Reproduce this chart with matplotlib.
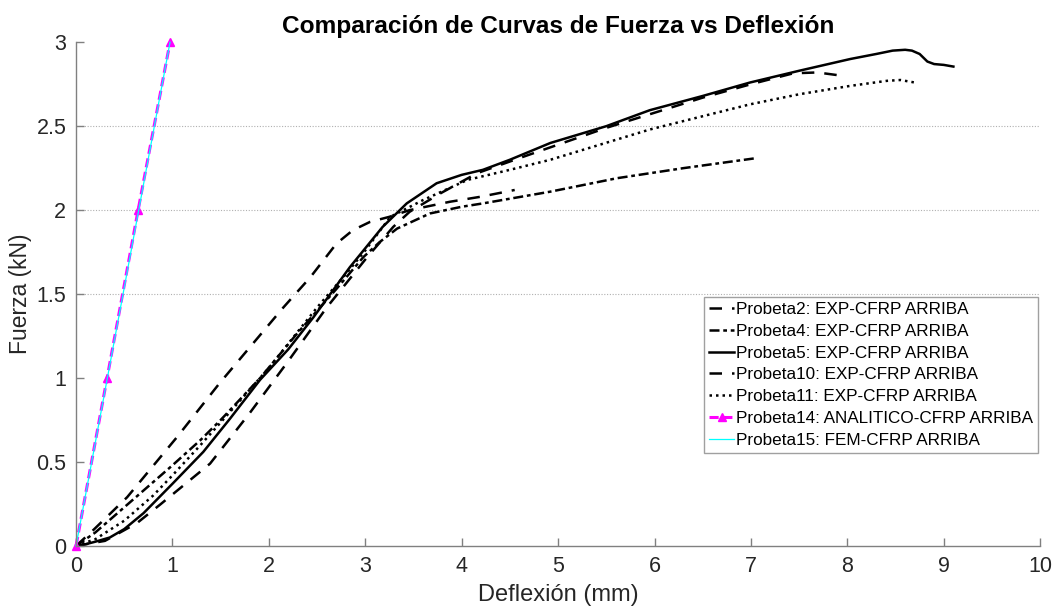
import matplotlib
matplotlib.use("Agg")
import matplotlib.pyplot as plt

plt.rcParams['font.family'] = ['Liberation Sans', 'DejaVu Sans']

# ---- data ----
p2_x = [0, 0.18, 0.53, 1.05, 1.49, 2.15, 2.43, 2.7, 2.87, 3.05, 3.25, 3.46, 3.88, 4.2, 4.55]
p2_y = [0, 0.095, 0.29, 0.65, 0.97, 1.42, 1.6, 1.8, 1.88, 1.93, 1.96, 2.0, 2.05, 2.08, 2.12]

p4_x = [0, 0.2, 0.5, 1.0, 1.29, 1.5, 1.91, 2.3, 2.7, 2.98, 3.15, 3.33, 3.67, 4.0, 4.22, 4.92, 5.61, 6.3, 7.06]
p4_y = [0, 0.08, 0.23, 0.48, 0.63, 0.75, 1.0, 1.27, 1.53, 1.72, 1.81, 1.89, 1.98, 2.02, 2.04, 2.11, 2.19, 2.25, 2.31]

p5_x = [0, 0.1, 0.2, 0.35, 0.5, 0.7, 1.0, 1.32, 1.6, 1.91, 2.2, 2.46, 2.84, 3.18, 3.43, 3.74, 4.0, 4.22,
        4.5, 4.92, 5.5, 5.95, 6.5, 6.99, 7.5, 8.03, 8.3, 8.47, 8.6, 8.67, 8.75, 8.83, 8.9, 9.0, 9.1]
p5_y = [0, 0.01, 0.025, 0.05, 0.1, 0.195, 0.37, 0.56, 0.76, 0.99, 1.17, 1.36, 1.66, 1.9, 2.04, 2.16, 2.21, 2.24,
        2.3, 2.4, 2.5, 2.595, 2.68, 2.76, 2.83, 2.9, 2.93, 2.95, 2.955, 2.95, 2.93, 2.885, 2.87, 2.865, 2.855]

p10_x = [0, 0.3, 0.63, 0.87, 1.39, 1.8, 2.2, 2.6, 3.02, 3.29, 3.46, 3.78, 4.16, 4.6, 5.0, 5.5, 6.0, 6.5,
         7.0, 7.44, 7.69, 7.95]
p10_y = [0, 0.03, 0.135, 0.245, 0.49, 0.79, 1.1, 1.42, 1.72, 1.9, 1.99, 2.1, 2.22, 2.31, 2.39, 2.49, 2.58, 2.67,
         2.75, 2.815, 2.82, 2.80]

p11_x = [0, 0.2, 0.5, 0.8, 1.0, 1.29, 1.6, 2.0, 2.5, 2.8, 3.0, 3.26, 3.6, 4.06, 4.5, 4.92, 5.95, 6.99,
         7.5, 8.03, 8.41, 8.55, 8.7]
p11_y = [0, 0.04, 0.15, 0.3, 0.42, 0.6, 0.8, 1.06, 1.42, 1.62, 1.76, 1.96, 2.06, 2.18, 2.24, 2.3, 2.48, 2.63,
         2.69, 2.74, 2.77, 2.775, 2.76]

p14_x = [0, 0.322, 0.644, 0.975]
p14_y = [0, 1, 2, 3]

p15_x = [0, 0.975]
p15_y = [0, 3]

x_ticks = [0, 1, 2, 3, 4, 5, 6, 7, 8, 9, 10]
y_ticks = [0, 0.5, 1, 1.5, 2, 2.5, 3]
y_tick_labels = ['0', '0.5', '1', '1.5', '2', '2.5', '3']
grid_levels = [1.5, 2, 2.5]

labels = ['Probeta2: EXP-CFRP ARRIBA', 'Probeta4: EXP-CFRP ARRIBA', 'Probeta5: EXP-CFRP ARRIBA',
          'Probeta10: EXP-CFRP ARRIBA', 'Probeta11: EXP-CFRP ARRIBA',
          'Probeta14: ANALITICO-CFRP ARRIBA', 'Probeta15: FEM-CFRP ARRIBA']

fig = plt.figure(figsize=(10.56, 6.12), dpi=100)
ax = fig.add_axes([0.072, 0.108, 0.913, 0.823])

for g in grid_levels:
    ax.axhline(g, color='#b0b0b0', lw=0.8, ls=(0, (1, 1.5)), zorder=0)

ax.plot(p2_x, p2_y, color='black', lw=1.8, dashes=(5, 4), label=labels[0])
ax.plot(p4_x, p4_y, color='black', lw=1.8, dashes=(4, 1.5, 1.5, 1.5), label=labels[1])
ax.plot(p5_x, p5_y, color='black', lw=1.8, ls='-', label=labels[2])
ax.plot(p10_x, p10_y, color='black', lw=1.8, dashes=(5, 4), label=labels[3])
ax.plot(p11_x, p11_y, color='black', lw=1.8, ls=(0, (1, 1.6)), label=labels[4])
ax.plot(p14_x, p14_y, color='#ff00ff', lw=2.2, dashes=(3, 1.5), marker='^', markersize=6,
        markerfacecolor='#ff00ff', markeredgecolor='#ff00ff', label=labels[5], clip_on=False)
ax.plot(p15_x, p15_y, color='#00ffff', lw=0.9, ls='-', label=labels[6], clip_on=False)

ax.set_xlim(0, 10)
ax.set_ylim(0, 3)
ax.set_xticks(x_ticks)
ax.set_yticks(y_ticks)
ax.set_yticklabels(y_tick_labels)

for s in ['top', 'right']:
    ax.spines[s].set_visible(False)
for s in ['left', 'bottom']:
    ax.spines[s].set_color('#808080')
    ax.spines[s].set_linewidth(1.0)
ax.tick_params(direction='in', length=6, width=1, colors='#808080', labelcolor='#262626',
               labelsize=15.5, pad=7)

ax.set_xlabel('Deflexión (mm)', fontsize=17, color='#262626', labelpad=5)
ax.set_ylabel('Fuerza (kN)', fontsize=16.5, color='#262626', labelpad=3)
ax.set_title('Comparación de Curvas de Fuerza vs Deflexión', fontsize=17.6, fontweight='bold', pad=7)

leg = ax.legend(loc='lower right', bbox_to_anchor=(0.998, 0.1845), borderaxespad=0,
                fontsize=12.3, handlelength=1.5, handletextpad=0.1, labelspacing=0.4,
                fancybox=False, framealpha=1, edgecolor='#a0a0a0', borderpad=0.3)
leg.get_frame().set_linewidth(1.0)

fig.savefig('out.png', dpi=100)
